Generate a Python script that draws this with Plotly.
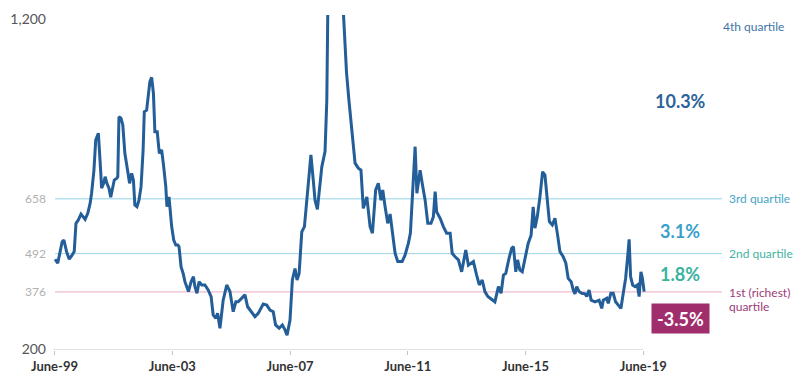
import plotly.graph_objects as go

# High-yield spread series (bps), decimal years
years = [
    1999.52, 1999.61, 1999.76, 1999.82, 1999.91, 2000.00, 2000.08, 2000.17, 2000.23, 2000.31,
    2000.40, 2000.48, 2000.54, 2000.63, 2000.71, 2000.76, 2000.84, 2000.90, 2000.99, 2001.06,
    2001.10, 2001.17, 2001.22, 2001.28, 2001.35, 2001.41, 2001.48, 2001.53, 2001.61, 2001.65,
    2001.69, 2001.76, 2001.82, 2001.89, 2001.99, 2002.05, 2002.12, 2002.18, 2002.23, 2002.30,
    2002.37, 2002.44, 2002.51, 2002.55, 2002.63, 2002.69, 2002.74, 2002.80, 2002.86, 2002.91,
    2002.99, 2003.06, 2003.14, 2003.21, 2003.28, 2003.32, 2003.39, 2003.43, 2003.48, 2003.55,
    2003.62, 2003.69, 2003.73, 2003.80, 2003.87, 2003.93, 2004.05, 2004.14, 2004.22, 2004.27,
    2004.34, 2004.41, 2004.50, 2004.61, 2004.72, 2004.82, 2004.89, 2004.98, 2005.04, 2005.12,
    2005.23, 2005.35, 2005.46, 2005.57, 2005.66, 2005.74, 2005.86, 2005.97, 2006.06, 2006.20,
    2006.31, 2006.42, 2006.59, 2006.71, 2006.82, 2006.93, 2007.01, 2007.13, 2007.24, 2007.33,
    2007.40, 2007.50, 2007.58, 2007.67, 2007.74, 2007.81, 2007.90, 2007.99, 2008.07, 2008.15,
    2008.21, 2008.29, 2008.35, 2008.43, 2008.50, 2008.58, 2008.69, 2008.75, 2008.83, 2008.92,
    2009.00, 2009.08, 2009.17, 2009.25, 2009.33, 2009.42, 2009.50, 2009.60, 2009.71, 2009.82,
    2009.91, 2009.99, 2010.11, 2010.22, 2010.30, 2010.41, 2010.50, 2010.59, 2010.65, 2010.73,
    2010.82, 2010.90, 2010.98, 2011.07, 2011.16, 2011.31, 2011.41, 2011.52, 2011.59, 2011.67,
    2011.75, 2011.81, 2011.92, 2011.99, 2012.09, 2012.18, 2012.29, 2012.37, 2012.43, 2012.48,
    2012.60, 2012.71, 2012.82, 2012.94, 2013.01, 2013.10, 2013.22, 2013.33, 2013.47, 2013.56,
    2013.73, 2013.84, 2013.93, 2014.03, 2014.12, 2014.22, 2014.35, 2014.46, 2014.58, 2014.67,
    2014.75, 2014.83, 2014.94, 2015.03, 2015.09, 2015.17, 2015.23, 2015.31, 2015.39, 2015.51,
    2015.59, 2015.69, 2015.76, 2015.82, 2015.90, 2015.99, 2016.08, 2016.16, 2016.25, 2016.31,
    2016.41, 2016.50, 2016.59, 2016.67, 2016.78, 2016.87, 2016.95, 2017.05, 2017.12, 2017.18,
    2017.24, 2017.32, 2017.41, 2017.52, 2017.58, 2017.66, 2017.73, 2017.86, 2018.00, 2018.09,
    2018.14, 2018.26, 2018.31, 2018.40, 2018.48, 2018.56, 2018.65, 2018.74, 2018.82, 2018.90,
    2018.97, 2019.02, 2019.07, 2019.14, 2019.22, 2019.30, 2019.36, 2019.42, 2019.47, 2019.53,
]
spread = [
    475, 463, 528, 533, 498, 475, 485, 498, 584, 594,
    612, 604, 596, 614, 644, 675, 745, 836, 857, 755,
    690, 705, 725, 705, 690, 663, 700, 715, 720, 725,
    907, 902, 882, 796, 740, 705, 735, 715, 639, 634,
    654, 695, 806, 922, 927, 978, 1013, 1026, 978, 861,
    861, 796, 806, 755, 695, 634, 664, 624, 574, 533,
    518, 518, 513, 452, 432, 407, 377, 407, 422, 392,
    372, 407, 397, 397, 382, 362, 306, 296, 311, 266,
    351, 397, 377, 316, 346, 346, 357, 367, 331, 316,
    301, 311, 339, 336, 321, 316, 276, 266, 276, 261,
    245, 291, 412, 447, 412, 432, 558, 574, 649, 725,
    791, 715, 654, 626, 695, 755, 801, 957, 1600, 1850,
    1950, 1750, 1650, 1330, 1190, 1040, 958, 857, 766, 751,
    745, 629, 664, 574, 554, 685, 705, 654, 685, 634,
    584, 612, 554, 493, 468, 468, 488, 523, 554, 685,
    816, 675, 745, 705, 654, 584, 584, 604, 680, 619,
    599, 574, 554, 554, 493, 483, 473, 437, 503, 457,
    468, 427, 397, 412, 377, 362, 352, 346, 392, 372,
    427, 432, 478, 508, 513, 437, 473, 442, 437, 483,
    523, 548, 634, 569, 604, 664, 740, 730, 654, 589,
    579, 599, 548, 498, 483, 463, 417, 407, 382, 370,
    392, 377, 372, 370, 362, 382, 351, 346, 351, 326,
    351, 357, 341, 372, 372, 346, 336, 326, 372, 417,
    483, 535, 422, 397, 392, 397, 362, 437, 417, 377,
]

# Axis ticks
x_tickvals = [1999.5, 2003.5, 2007.5, 2011.5, 2015.5, 2019.5]
x_ticktext = ["June-99", "June-03", "June-07", "June-11", "June-15", "June-19"]
y_tickvals = [200, 376, 492, 658, 1200]
y_ticktext = ["200", "376", "492", "658", "1,200"]

# Quartile breakpoints and their forward returns
quartile_levels = [658, 492, 376]
quartile_line_colors = ["#93d2e6", "#9fd4e6", "#e9a9c3"]
quartile_names = ["3rd quartile", "2nd quartile", "1st (richest)"]
quartile_name_colors = ["#47a4c8", "#45b3a2", "#9c3b7a"]
returns = ["10.3%", "3.1%", "1.8%", "-3.5%"]
return_levels = [953, 561, 430, 295]
return_colors = ["#2b6399", "#3a9fc9", "#3bb29d", "#ffffff"]

FONT = "Lato, 'Open Sans', sans-serif"
LINE_BLUE = "#245e99"

fig = go.Figure()
fig.add_trace(go.Scatter(
    x=years, y=spread, mode="lines",
    line=dict(color=LINE_BLUE, width=3),
    hoverinfo="skip", showlegend=False,
))

# Quartile guide lines
for lvl, col in zip(quartile_levels, quartile_line_colors):
    fig.add_shape(type="line", xref="x", yref="y", x0=1999.52, x1=2022.17,
                  y0=lvl, y1=lvl, line=dict(color=col, width=1), layer="below")

# Bottom axis line
fig.add_shape(type="line", xref="x", yref="y", x0=1999.45, x1=2019.5,
              y0=200, y1=200, line=dict(color="#c4c4c4", width=1))

# Quartile names on the right
label_x = 2022.33
for lvl, name, col in zip(quartile_levels, quartile_names, quartile_name_colors):
    fig.add_annotation(x=label_x, y=lvl, text=name, showarrow=False, xanchor="left",
                       yanchor="middle", yshift=-1 if lvl == 376 else 0,
                       font=dict(family=FONT, size=12, color=col))
fig.add_annotation(x=label_x, y=333, text="quartile", showarrow=False, xanchor="left",
                   yanchor="middle", font=dict(family=FONT, size=12, color="#9c3b7a"))
fig.add_annotation(x=2022.15, y=1179, text="4th quartile", showarrow=False, xanchor="left",
                   yanchor="middle", font=dict(family=FONT, size=12, color="#3f74a6"))

# Forward-return figures
ret_x = 2020.75
for r, lvl, col in zip(returns, return_levels, return_colors):
    if r.startswith("-"):
        fig.add_annotation(x=ret_x, y=lvl, text=f"<b>{r}</b>", showarrow=False,
                           xanchor="center", yanchor="middle", width=57, height=29,
                           bgcolor="#a02d6c", borderpad=0,
                           font=dict(family=FONT, size=18, color=col))
    else:
        fig.add_annotation(x=ret_x, y=lvl, text=f"<b>{r}</b>", showarrow=False,
                           xanchor="center", yanchor="middle",
                           font=dict(family=FONT, size=18, color=col))

y_text_styled = []
for t in y_ticktext:
    if t in ("200", "1,200"):
        y_text_styled.append(f"<span style='font-size:14px;fill:#555555'>{t}</span>")
    else:
        y_text_styled.append(t)

fig.update_layout(
    width=799, height=373,
    margin=dict(l=53, r=0, t=15, b=23),
    paper_bgcolor="white", plot_bgcolor="white",
    xaxis=dict(
        range=[1999.449, 2024.79], tickmode="array", tickvals=x_tickvals,
        ticktext=x_ticktext, showgrid=False, zeroline=False, showline=False,
        ticks="outside", ticklen=4, tickcolor="#c4c4c4",
        tickfont=dict(family=FONT, size=13, color="#333333", weight="bold"),
        automargin=False,
    ),
    yaxis=dict(
        range=[200, 1215], tickmode="array", tickvals=y_tickvals,
        ticktext=y_text_styled, showgrid=False, zeroline=False, showline=False,
        ticks="", ticklabelstandoff=6,
        tickfont=dict(family=FONT, size=12, color="#b0b0b0"),
        automargin=False,
    ),
)

fig.write_html("out.html")
